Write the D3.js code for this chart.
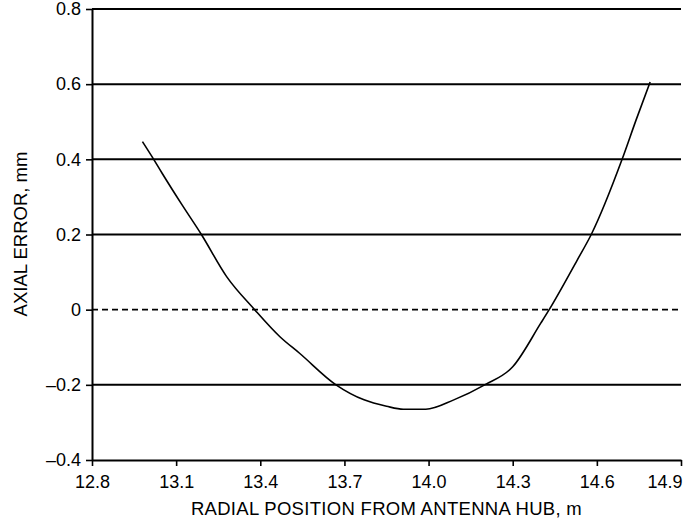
<!DOCTYPE html>
<html>
<head>
<meta charset="utf-8">
<script src="https://cdn.jsdelivr.net/npm/d3@7"></script>
<style>
	body { margin: 0; background: #fff; }
	svg { display: block; font-family: 'Liberation Sans', Arial, sans-serif; }
</style>
</head>
<body>
<svg id="svg" width="687" height="527"></svg>
<script>
// values
const radial = [12.98, 13.02, 13.05, 13.12, 13.19, 13.28, 13.38, 13.47, 13.54, 13.67, 13.77, 13.85, 13.91, 13.99, 14.09, 14.2, 14.3, 14.4, 14.43, 14.53, 14.58, 14.69, 14.74, 14.79];
const axialError = [0.447, 0.4, 0.363, 0.28, 0.2, 0.088, 0, -0.072, -0.116, -0.2, -0.24, -0.257, -0.265, -0.265, -0.24, -0.2, -0.152, -0.036, 0, 0.132, 0.2, 0.4, 0.505, 0.606];
const xTicks = [12.8, 13.1, 13.4, 13.7, 14.0, 14.3, 14.6, 14.9];
const yTicks = [-0.4, -0.2, 0, 0.2, 0.4, 0.6, 0.8];
const yTickLabels = ['\u20130.4', '\u20130.2', '0', '0.2', '0.4', '0.6', '0.8'];
const gridValues = [-0.2, 0.2, 0.4, 0.6, 0.8];

const margin = { top: 9, right: 6, bottom: 67, left: 92 };
const width = 687 - margin.left - margin.right;
const height = 527 - margin.top - margin.bottom;

const data = radial.map((r, i) => ({ x: r, y: axialError[i] }));

const xscale = d3.scaleLinear().domain([12.8, 14.9]).range([margin.left, margin.left + width]);
const yscale = d3.scaleLinear().domain([-0.4, 0.8]).range([margin.top + height, margin.top]);

const svg = d3.select('#svg');

// gridlines
svg.append('g')
	.selectAll('line')
	.data(gridValues)
	.enter()
	.append('line')
	.attr('x1', xscale(12.8))
	.attr('x2', xscale(14.9))
	.attr('y1', (d) => yscale(d))
	.attr('y2', (d) => yscale(d))
	.attr('stroke', '#000')
	.attr('stroke-width', 2);

// dashed zero line
svg.append('line')
	.attr('x1', xscale(12.8))
	.attr('x2', xscale(14.9))
	.attr('y1', yscale(0))
	.attr('y2', yscale(0))
	.attr('stroke', '#000')
	.attr('stroke-width', 1.6)
	.attr('stroke-dasharray', '6,4');

// axes
const bottomAxis = d3.axisBottom(xscale)
	.tickValues(xTicks)
	.tickFormat(d3.format('.1f'))
	.tickSize(6)
	.tickSizeOuter(0);
const leftAxis = d3.axisLeft(yscale)
	.tickValues(yTicks)
	.tickFormat((d, i) => yTickLabels[i])
	.tickSize(6)
	.tickSizeOuter(0);

const gx = svg.append('g')
	.attr('transform', `translate(0, ${margin.top + height})`)
	.call(bottomAxis);
const gy = svg.append('g')
	.attr('transform', `translate(${margin.left}, 0)`)
	.call(leftAxis);

[gx, gy].forEach((g) => {
	g.select('.domain').attr('stroke', '#000').attr('stroke-width', 2);
	g.selectAll('.tick line').attr('stroke', '#000').attr('stroke-width', 1.6);
	g.selectAll('.tick text')
		.attr('fill', '#000')
		.style('font-size', '18px')
		.style('font-family', "'Liberation Sans', Arial, sans-serif");
});
gx.selectAll('.tick text').attr('dy', '0.71em').attr('y', 15);
// last label sits against the page edge, right-aligned to its tick
gx.selectAll('.tick text')
	.filter((d) => d === 14.9)
	.attr('text-anchor', 'end')
	.attr('x', 1);
gy.selectAll('.tick text').attr('x', -11);

// curve
const line = d3.line()
	.x((d) => xscale(d.x))
	.y((d) => yscale(d.y))
	.curve(d3.curveMonotoneX);

svg.append('path')
	.datum(data)
	.attr('d', line)
	.attr('fill', 'none')
	.attr('stroke', '#000')
	.attr('stroke-width', 1.6);

// axis titles
svg.append('text')
	.attr('x', margin.left + width / 2)
	.attr('y', 515)
	.attr('text-anchor', 'middle')
	.style('font-size', '18.5px')
	.style('letter-spacing', '0.3px')
	.text('RADIAL POSITION FROM ANTENNA HUB, m');

svg.append('text')
	.attr('transform', `translate(27, ${(148 + 320) / 2}) rotate(-90)`)
	.attr('text-anchor', 'middle')
	.style('font-size', '18.5px')
	.text('AXIAL ERROR, mm');
</script>
</body>
</html>
